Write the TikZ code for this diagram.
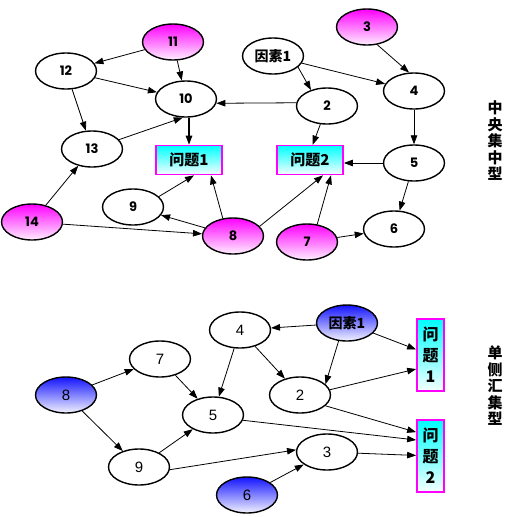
\documentclass[tikz,border=0pt]{standalone}
\usepackage{fontspec}
\setmainfont{Liberation Sans}
\newfontfamily\cjk{Noto Sans CJK SC}
\newfontfamily\geo{Poppins}
\usetikzlibrary{shapes.geometric,arrows.meta,calc}
\definecolor{pk}{RGB}{255,0,255}
\definecolor{bl}{RGB}{20,20,255}
\definecolor{cy}{RGB}{0,255,255}
\begin{document}
\begin{tikzpicture}[x=1pt,y=-1pt,
  el/.style={ellipse, draw=black, line width=1.4pt, minimum width=61pt, minimum height=36pt, inner sep=0pt},
  topn/.style={font=\geo\bfseries\fontsize{13}{13}\selectfont},
  botn/.style={font=\fontsize{15}{15}\selectfont},
  cjkn/.style={font=\cjk\bfseries\fontsize{14}{14}\selectfont},
  pink/.style={el, top color=pk, bottom color=pk!6},
  blue/.style={el, top color=bl, bottom color=bl!5},
  white/.style={el, fill=white},
  hbox/.style={rectangle, draw=pk, line width=1.7pt, top color=cy, bottom color=cy!4, minimum width=66pt, minimum height=29pt, inner sep=0pt, font=\cjk\bfseries\fontsize{15}{15}\selectfont},
  vbox/.style={rectangle, draw=pk, line width=1.7pt, top color=cy, bottom color=cy!4, minimum width=27pt, minimum height=72pt, inner sep=0pt, align=center, font=\cjk\bfseries\fontsize{16}{21}\selectfont},
  vlabel/.style={align=center, inner sep=0pt, font=\cjk\bfseries\fontsize{15}{16.5}\selectfont},
  arr/.style={draw, line width=0.8pt, -{Triangle[length=9pt,width=6.5pt]}}
]
\useasboundingbox (0,0) rectangle (531,517);
% ---------- top graph ----------
\node[pink,topn] (n11) at (173,42) {11};
\node[white,topn] (n12) at (66,71) {12};
\node[white,topn] (n10) at (186,99) {10};
\node[white,topn] (n13) at (92,149) {13};
\node[hbox] (p1) at (189,160) {问题1};
\node[white,topn] (n9) at (133,207) {9};
\node[pink,topn] (n14) at (32,222) {14};
\node[pink,topn] (n8) at (233,236) {8};
\node[white,cjkn] (f1) at (273,56) {因素1};
\node[white,topn] (n2) at (327,106) {2};
\node[pink,topn] (n3) at (367,27) {3};
\node[white,topn] (n4) at (414,91) {4};
\node[hbox] (p2) at (310,160) {问题2};
\node[white,topn] (n5) at (414,163) {5};
\node[white,topn] (n6) at (394,229) {6};
\node[pink,topn] (n7) at (307,242) {7};
\node[vlabel] (lab1) at (495,141) {中\\央\\集\\中\\型};

\draw[arr] (n11) -- (n12);
\draw[arr] (n11) -- (n10);
\draw[arr] (n12) -- (n10);
\draw[arr] (n12) -- (n13);
\draw[arr] (n13) -- (n10.260);
\draw[arr, line width=1.2pt] (n10.south -| p1.north) -- (p1.north);
\draw[arr] (n2.174) -- (n10.-8);
\draw[arr] (f1.-24) -- (n2.135);
\draw[arr] (f1) -- (n4);
\draw[arr] (n3.-60) -- (n4.105);
\draw[arr] (n2.250) -- (p2.80);
\draw[arr] (n4) -- (n5);
\draw[arr] (n5.west) -- (n5.west -| p2.east);
\draw[arr] (n5) -- (n6);
\draw[arr] (n7) -- (n6);
\draw[arr] (n7.60) -- ($(p2.south)+(21,0)$);
\draw[arr] (n8.20) -- ($(p2.south)+(13,0)$);
\draw[arr] (n8.120) -- ($(p1.south)+(22,0)$);
\draw[arr] (n8) -- (n9);
\draw[arr] (n9.22) -- ($(p1.south)+(5,0)$);
\draw[arr] (n14) -- (n13);
\draw[arr] (n14) -- (n8);

% ---------- bottom graph ----------
\node[white,botn] (b4) at (240,330) {4};
\node[white,botn] (b7) at (160,359) {7};
\node[blue,botn] (b8) at (66,395) {8};
\node[white,botn] (b5) at (213,415) {5};
\node[white,botn] (b9) at (139,467) {9};
\node[blue,botn] (b6) at (247,495) {6};
\node[blue,cjkn] (bf1) at (347,323) {因素1};
\node[white,botn] (b2) at (300,395) {2};
\node[white,botn] (b3) at (327,452) {3};
\node[vbox] (q1) at (430.5,355) {问\\题\\1};
\node[vbox] (q2) at (430.5,456) {问\\题\\2};
\node[vlabel] (lab2) at (495,386) {单\\侧\\汇\\集\\型};

\draw[arr] (bf1) -- (b4);
\draw[arr] (bf1) -- (q1);
\draw[arr] (bf1.-115) -- (b2.23);
\draw[arr] (b2.10) -- ($(q1.west)+(0,14)$);
\draw[arr] (b2.-23) -- ($(q2.north west)+(0,13)$);
\draw[arr] (b4) -- (b5);
\draw[arr] (b4) -- (b2);
\draw[arr] (b7) -- (b5);
\draw[arr] (b8) -- (b7);
\draw[arr] (b8) -- (b9);
\draw[arr] (b9) -- (b5);
\draw[arr] (b5.-10) -- ($(q2.west)+(0,-16)$);
\draw[arr] (b9.-5) -- (b3.176);
\draw[arr] (b6) -- (b3);
\draw[arr] (b3) -- (q2);
\end{tikzpicture}
\end{document}
